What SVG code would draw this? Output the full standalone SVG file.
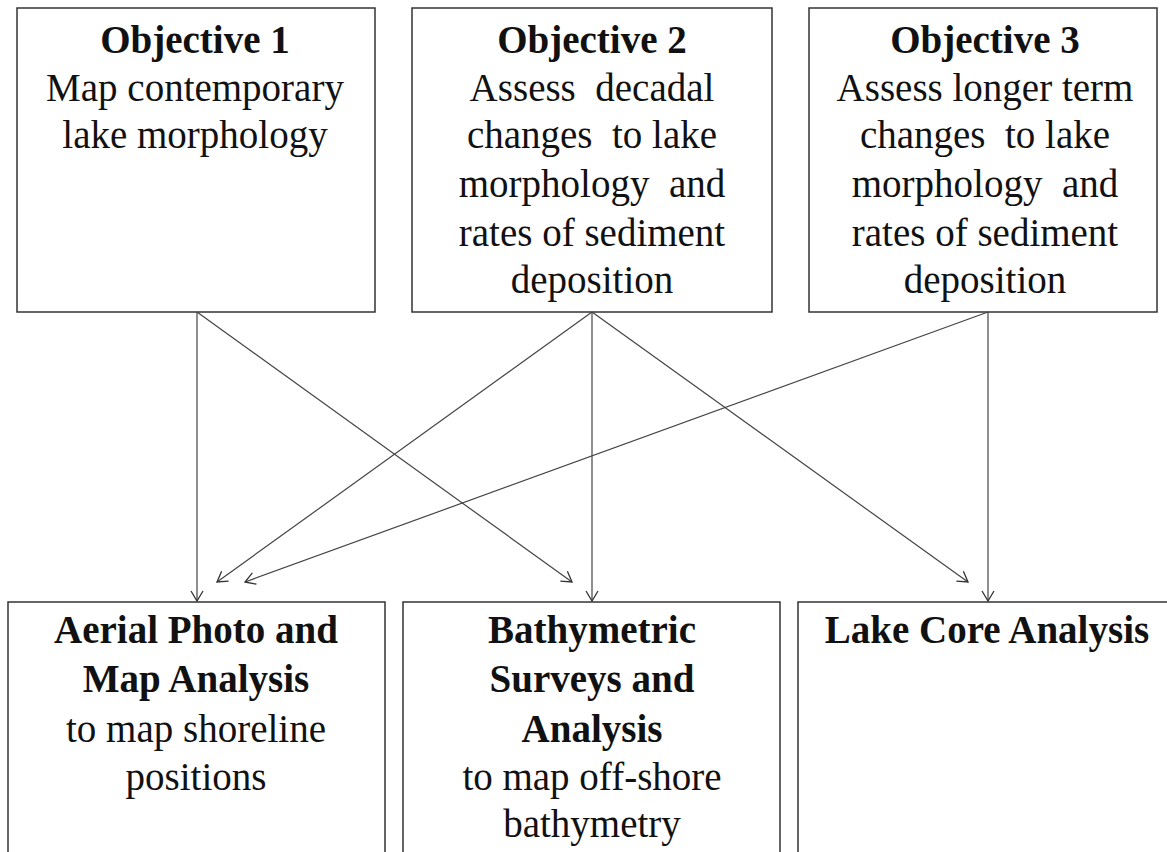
<svg xmlns="http://www.w3.org/2000/svg" width="1167" height="852" viewBox="0 0 1167 852">
<defs>
<marker id="arr" markerUnits="userSpaceOnUse" markerWidth="14" markerHeight="14" viewBox="-1 -7 12 14" refX="10" refY="0" orient="auto">
<path d="M0,-6 L10,0 L0,6" fill="none" stroke="#333" stroke-width="1.3"/>
</marker>
<style>
.box{fill:#fff;stroke:#333;stroke-width:1.5}
.t{font-family:"Liberation Serif","Times New Roman",serif;font-size:39px;fill:#111;text-anchor:middle}
.b{font-weight:bold}
.c{stroke:#444;stroke-width:1.2;fill:none;marker-end:url(#arr)}
</style>
</defs>
<rect width="1167" height="852" fill="#fff"/>
<g id="obj1">
<rect class="box" x="17" y="8" width="358" height="304"/>
<text class="t b" x="195" y="53">Objective 1</text>
<text class="t" x="195" y="101">Map contemporary</text>
<text class="t" x="195" y="148">lake morphology</text>
</g>
<g id="obj2">
<rect class="box" x="412" y="8" width="360" height="304"/>
<text class="t b" x="592" y="53">Objective 2</text>
<text class="t" x="592" y="101" xml:space="preserve">Assess  decadal</text>
<text class="t" x="592" y="148" xml:space="preserve">changes  to lake</text>
<text class="t" x="592" y="197" xml:space="preserve">morphology  and</text>
<text class="t" x="592" y="246">rates of sediment</text>
<text class="t" x="592" y="293">deposition</text>
</g>
<g id="obj3">
<rect class="box" x="809" y="8" width="348" height="304"/>
<text class="t b" x="985" y="53">Objective 3</text>
<text class="t" x="985" y="101">Assess longer term</text>
<text class="t" x="985" y="148" xml:space="preserve">changes  to lake</text>
<text class="t" x="985" y="197" xml:space="preserve">morphology  and</text>
<text class="t" x="985" y="246">rates of sediment</text>
<text class="t" x="985" y="293">deposition</text>
</g>
<g id="aerial">
<rect class="box" x="8" y="602" width="377" height="270"/>
<text class="t b" x="196" y="643">Aerial Photo and</text>
<text class="t b" x="196" y="692">Map Analysis</text>
<text class="t" x="196" y="742">to map shoreline</text>
<text class="t" x="196" y="790">positions</text>
</g>
<g id="bathy">
<rect class="box" x="403" y="602" width="377" height="270"/>
<text class="t b" x="592" y="643">Bathymetric</text>
<text class="t b" x="592" y="692">Surveys and</text>
<text class="t b" x="592" y="742">Analysis</text>
<text class="t" x="592" y="790">to map off-shore</text>
<text class="t" x="592" y="837">bathymetry</text>
</g>
<g id="core">
<rect class="box" x="798" y="602" width="380" height="270"/>
<text class="t b" x="987" y="643">Lake Core Analysis</text>
</g>
<g id="connectors">
<line class="c" x1="197" y1="312" x2="197" y2="601"/>
<line class="c" x1="197" y1="312" x2="572" y2="582"/>
<line class="c" x1="592" y1="312" x2="217" y2="582"/>
<line class="c" x1="592" y1="312" x2="592" y2="601"/>
<line class="c" x1="592" y1="312" x2="968" y2="582"/>
<line class="c" x1="988" y1="312" x2="245" y2="582"/>
<line class="c" x1="988" y1="312" x2="988" y2="601"/>
</g>
</svg>
